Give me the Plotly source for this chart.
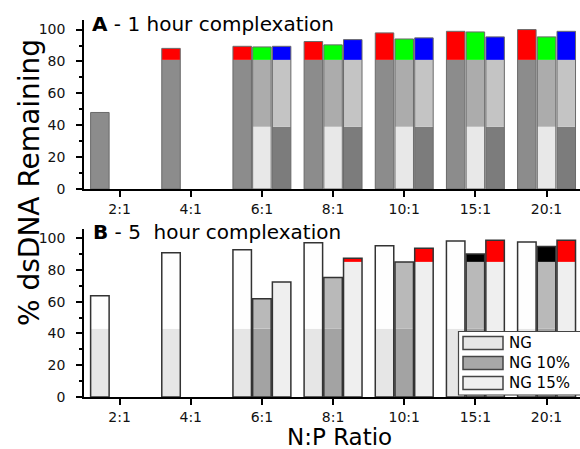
import plotly.graph_objects as go

# ---------------- data ----------------
categories = ["2:1", "4:1", "6:1", "8:1", "10:1", "15:1", "20:1"]
series_names = ["NG", "NG 10%", "NG 15%"]

# Panel A - 1 hour complexation (% dsDNA remaining)
A_NG = [48.0, 88.2, 89.5, 92.5, 97.9, 98.9, 100.0]
A_NG10 = [None, None, 89.1, 90.4, 94.1, 98.5, 95.4]
A_NG15 = [None, None, 89.5, 93.7, 94.8, 95.4, 98.9]
A_BANDS = [39, 81]

# Panel B - 5 hour complexation (% dsDNA remaining)
B_NG = [63.7, 90.8, 92.7, 97.1, 95.2, 98.1, 97.5]
B_NG10 = [None, None, 61.8, 75.2, 85.0, 90.0, 94.6]
B_NG15 = [None, None, 72.4, 87.3, 93.5, 98.6, 98.6]
B_BANDS = [43, 85]

y_ticks = [0, 20, 40, 60, 80, 100]

# ---------------- style ----------------
FONT = "DejaVu Sans"
W = 0.26
CENTERS = [-0.277, 0.0, 0.277]

A_COLORS = [["#8c8c8c", "#8c8c8c", "#ff0000"],
            ["#e8e8e8", "#acacac", "#00ff00"],
            ["#7c7c7c", "#c4c4c4", "#0000ff"]]
B_COLORS = [["#e6e6e6", "#fefefe", "#fefefe"],
            ["#a3a3a3", "#b9b9b9", "#000000"],
            ["#efefef", "#efefef", "#ff0000"]]

fig = go.Figure()


def add_panel(series, bands, colors, oc, ow, xa, ya):
    edges = [0] + list(bands) + [None]
    for k, vals in enumerate(series):
        off = CENTERS[k] - W / 2
        # merge consecutive bands that share a colour (avoids seams)
        segs = []
        for j in range(3):
            lo, hi, c = edges[j], edges[j + 1], colors[k][j]
            if segs and segs[-1][2] == c:
                segs[-1] = (segs[-1][0], hi, c)
            else:
                segs.append((lo, hi, c))
        for lo, hi, c in segs:
            lens = []
            for v in vals:
                if v is None:
                    lens.append(None)
                else:
                    top = v if hi is None else min(v, hi)
                    lens.append(max(top - lo, 0))
            fig.add_trace(go.Bar(
                x=categories, y=lens, base=lo, width=W, offset=off,
                marker=dict(color=c, line=dict(width=0)),
                xaxis=xa, yaxis=ya, showlegend=False, hoverinfo="skip"))
        fig.add_trace(go.Bar(
            x=categories, y=vals, base=0, width=W, offset=off,
            marker=dict(color="rgba(0,0,0,0)", line=dict(color=oc, width=ow)),
            xaxis=xa, yaxis=ya, showlegend=False, hoverinfo="skip",
            name=series_names[k]))


add_panel([A_NG, A_NG10, A_NG15], A_BANDS, A_COLORS, "#6a6a6a", 1, "x", "y")
add_panel([B_NG, B_NG10, B_NG15], B_BANDS, B_COLORS, "#333333", 1.5, "x2", "y2")

# ---------------- layout helpers ----------------
H, Wd = 449, 580
ML, MR, MT, MB = 84, 0, 20, 52
PW = Wd - ML - MR
PH = H - MT - MB


def px(x):
    return (x - ML) / PW


def py(y):
    return (H - MB - y) / PH


axis_common = dict(showline=True, linecolor="black", linewidth=1.5, showgrid=False,
                   zeroline=False, ticks="outside", tickcolor="black", tickwidth=1.5,
                   tickfont=dict(family=FONT, size=14, color="#111"))

xa = dict(axis_common, type="category", range=[-0.5, 6.47], ticklen=6)
ya = dict(axis_common, range=[0, 106], tickmode="array", tickvals=y_ticks, ticklen=6,
          ticklabelstandoff=8,
          minor=dict(dtick=10, tick0=0, ticks="outside", ticklen=3, tickcolor="black",
                     tickwidth=1.5))

fig.update_layout(
    width=Wd, height=H,
    margin=dict(l=ML, r=MR, t=MT, b=MB),
    barmode="overlay",
    plot_bgcolor="white", paper_bgcolor="white",
    font=dict(family=FONT, color="black"),
    xaxis=dict(xa, domain=[0, 1], anchor="y", ticklabelstandoff=0),
    yaxis=dict(ya, domain=[py(189), 1], anchor="x"),
    xaxis2=dict(xa, domain=[0, 1], anchor="y2", ticklabelstandoff=0),
    yaxis2=dict(ya, domain=[0, py(228.5)], anchor="x2"),
)

ann = []
ann.append(dict(text="<b>A</b> - 1 hour complexation", x=px(90), y=py(24),
                xref="paper", yref="paper", xanchor="left", yanchor="middle",
                showarrow=False, font=dict(size=20, family=FONT)))
ann.append(dict(text="<b>B</b> - 5\u00a0 hour complexation", x=px(91), y=py(232),
                xref="paper", yref="paper", xanchor="left", yanchor="middle",
                showarrow=False, font=dict(size=20, family=FONT)))
ann.append(dict(text="% dsDNA Remaining", x=px(29), y=py(183), textangle=-90,
                xref="paper", yref="paper", xanchor="center", yanchor="middle",
                showarrow=False, font=dict(size=28, family=FONT)))
ann.append(dict(text="N:P Ratio", x=px(339), y=py(437),
                xref="paper", yref="paper", xanchor="center", yanchor="middle",
                showarrow=False, font=dict(size=23, family=FONT)))

# custom legend
shapes = [dict(type="rect", xref="paper", yref="paper", x0=px(458.5), x1=px(584),
               y0=py(395), y1=py(331.5), fillcolor="white",
               line=dict(color="#444", width=1.2), layer="above")]
leg_colors = ["#e6e6e6", "#a8a8a8", "#efefef"]
leg_y = [343, 363, 383]
for name, c, yc in zip(series_names, leg_colors, leg_y):
    shapes.append(dict(type="rect", xref="paper", yref="paper", x0=px(463), x1=px(503),
                       y0=py(yc + 6.5), y1=py(yc - 6.5), fillcolor=c,
                       line=dict(color="#444", width=1.5), layer="above"))
    ann.append(dict(text=name, x=px(507), y=py(yc), xref="paper", yref="paper",
                    xanchor="left", yanchor="middle", showarrow=False,
                    font=dict(size=15, family=FONT)))

fig.update_layout(annotations=ann, shapes=shapes)
fig.write_html("out.html", config={"displayModeBar": False},
               post_script="document.body.style.margin='0';document.body.style.overflow='hidden';")
